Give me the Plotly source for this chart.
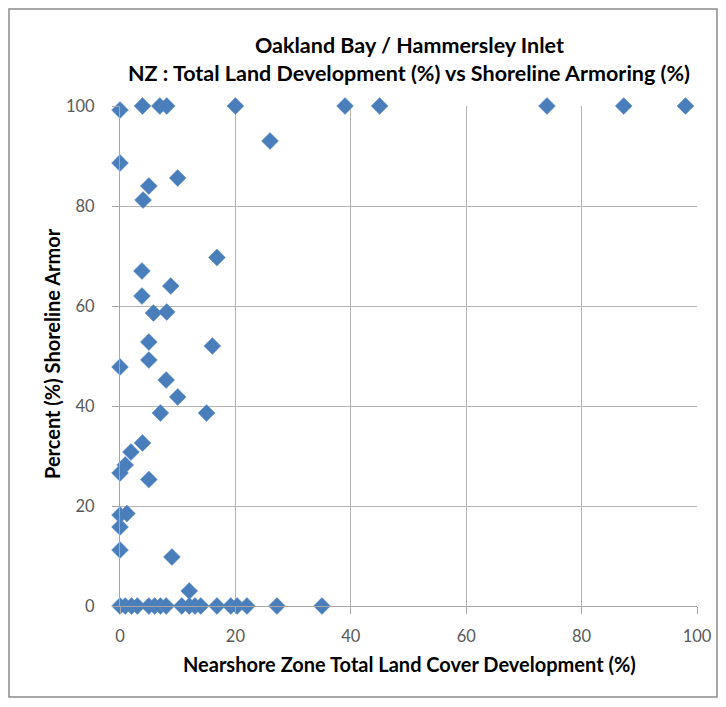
import plotly.graph_objects as go

# Nearshore zone total land cover development (%) vs shoreline armor (%)
dev_top = [0, 3.9, 6.9, 8.1, 20, 39, 45, 74, 87.3, 98]
armor_top = [99.2, 100, 100, 100, 100, 100, 100, 100, 100, 100]

dev_mid = [26, 0, 10, 5, 4, 16.8, 3.8, 8.8, 3.8, 5.8, 8.1, 5, 16, 5, 0, 8, 10, 7, 15,
           3.9, 1.9, 0.9, 0, 5, 0, 1.2, 0, 0, 9, 12]
armor_mid = [93, 88.6, 85.6, 84, 81.2, 69.7, 67, 64, 62, 58.6, 58.8, 52.8, 52, 49.2, 47.8,
             45.2, 41.8, 38.6, 38.6, 32.6, 30.8, 28.2, 26.6, 25.3, 18.2, 18.5, 15.8, 11.2,
             9.8, 3]

dev_zero = [0, 0.9, 2, 3, 5, 6, 7, 8, 10.7, 12, 13, 14, 16.8, 19.2, 20.3, 22, 27.2, 35]
armor_zero = [0] * len(dev_zero)

x_vals = dev_top + dev_mid + dev_zero
y_vals = armor_top + armor_mid + armor_zero

title_lines = ["Oakland Bay / Hammersley Inlet",
               "NZ : Total Land Development (%) vs Shoreline Armoring (%)"]
x_title = "Nearshore Zone Total Land Cover Development (%)"
y_title = "Percent (%) Shoreline Armor"
ticks = [0, 20, 40, 60, 80, 100]

FONT = "Lato"
OFF = 8  # page body margin
W, H = 710, 690
L, R, T, B = 120 - OFF, W - (697 - OFF), 106 - OFF, H - (606 - OFF)
pw, ph = W - L - R, H - T - B

fig = go.Figure()
fig.add_trace(go.Scatter(
    x=x_vals, y=y_vals, mode="markers",
    marker=dict(symbol="diamond", size=13, color="#4a7ebb",
                line=dict(color="#5b8ccb", width=0.5)),
    cliponaxis=False, showlegend=False,
))

axis_common = dict(
    range=[0, 100], tickvals=ticks, showgrid=True, gridcolor="#b3b3b3", gridwidth=1,
    zeroline=False, showline=True, linecolor="#a6a6a6", linewidth=1,
    ticks="outside", ticklen=7, tickcolor="#a6a6a6", automargin=False,
    tickfont=dict(family=FONT, size=16.5, color="#595959"),
)

def py(page_y):
    return (H - B - (page_y - OFF)) / ph

def px(page_x):
    return (page_x - OFF - L) / pw

fig.update_layout(
    width=W, height=H,
    margin=dict(l=L, r=R, t=T, b=B),
    paper_bgcolor="white", plot_bgcolor="white",
    xaxis=dict(**axis_common, ticklabelstandoff=8),
    yaxis=dict(**axis_common, ticklabelstandoff=14),
)

ann_font = dict(family=FONT, size=21.5, color="#000000")
fig.add_annotation(text="<b>" + title_lines[0] + "</b>", xref="paper", yref="paper",
                   x=px(409), y=py(45), xanchor="center", yanchor="middle",
                   showarrow=False, font=ann_font)
fig.add_annotation(text="<b>" + title_lines[1] + "</b>", xref="paper", yref="paper",
                   x=px(409), y=py(73), xanchor="center", yanchor="middle",
                   showarrow=False, font=ann_font)
fig.add_annotation(text="<b>" + x_title + "</b>", xref="paper", yref="paper",
                   x=px(409), y=py(664), xanchor="center", yanchor="middle",
                   showarrow=False, font=dict(family=FONT, size=20, color="#000000"))
fig.add_annotation(text="<b>" + y_title + "</b>", xref="paper", yref="paper",
                   x=px(52), y=py(354), xanchor="center", yanchor="middle", textangle=-90,
                   showarrow=False, font=dict(family=FONT, size=20, color="#000000"))

# outer chart border
fig.add_shape(type="rect", xref="paper", yref="paper",
              x0=px(OFF + 1), x1=px(OFF + W - 1), y0=py(OFF + H - 1), y1=py(OFF + 1),
              line=dict(color="#8c8c8c", width=1.5), fillcolor="rgba(0,0,0,0)", layer="above")

fig.write_html("out.html")
